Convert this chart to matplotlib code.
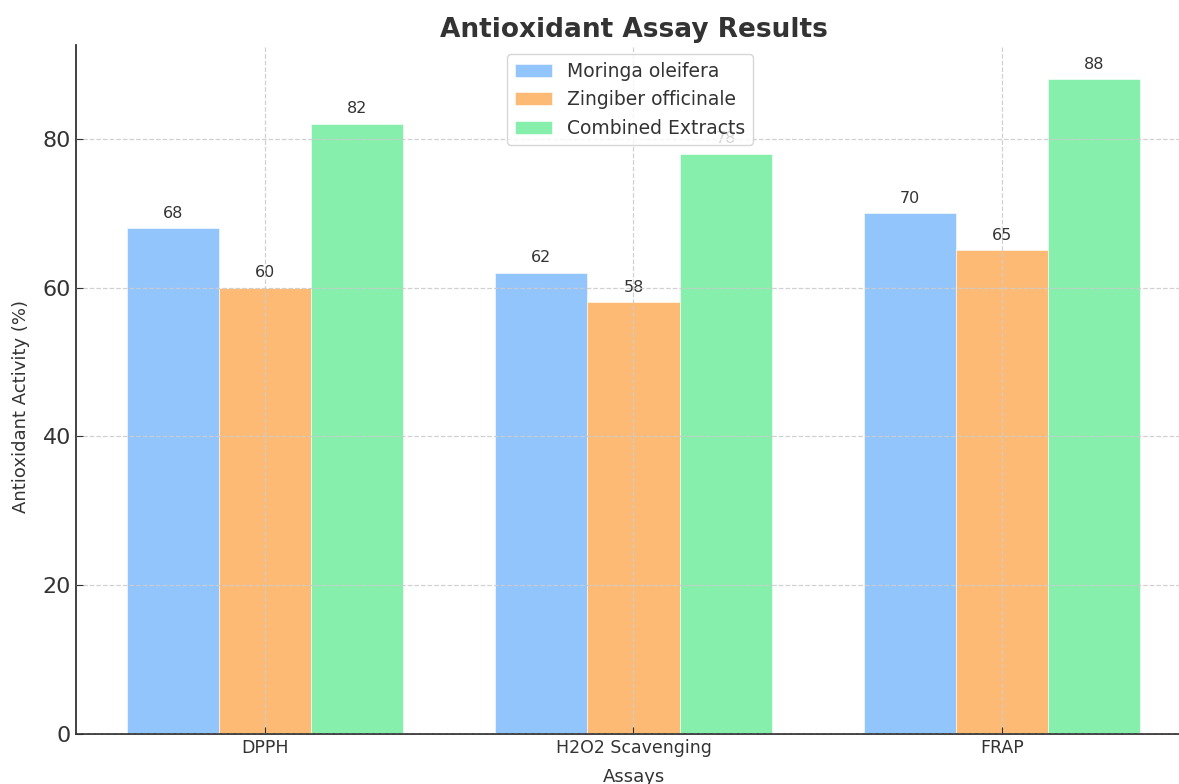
import matplotlib
matplotlib.use("Agg")
import matplotlib.pyplot as plt
import numpy as np

assays = ["DPPH", "H2O2 Scavenging", "FRAP"]
series_names = ["Moringa oleifera", "Zingiber officinale", "Combined Extracts"]
moringa = [68, 62, 70]
zingiber = [60, 58, 65]
combined = [82, 78, 88]
colors = ["#93C5FD", "#FDBA74", "#86EFAC"]

fig = plt.figure(figsize=(11.79, 7.84), dpi=100)
ax = fig.add_axes([76 / 1179, 50 / 784, 1115 / 1179, 689 / 784])

x = np.arange(len(assays))
w = 0.25
text_color = "#333333"
for i, (vals, name, c) in enumerate(zip([moringa, zingiber, combined], series_names, colors)):
    bars = ax.bar(x + (i - 1) * w, vals, w, label=name, color=c, edgecolor="white", linewidth=0.4, zorder=1)
    for b, v in zip(bars, vals):
        ax.text(b.get_x() + b.get_width() / 2, v + 1.0, f"{v}", ha="center", va="bottom",
                fontsize=11.5, color=text_color, zorder=0.5)

ax.set_xticks(x)
ax.set_xticklabels(assays, fontsize=12.5, color=text_color)
ax.tick_params(axis="y", labelsize=16, direction="in", colors=text_color, length=5)
ax.tick_params(axis="x", direction="in", colors=text_color, length=5)
ax.set_yticks([0, 20, 40, 60, 80])
ax.set_ylabel("Antioxidant Activity (%)", fontsize=13, color=text_color)
ax.yaxis.set_label_coords(-0.041, 0.475)
ax.set_xlabel("Assays", fontsize=13, color=text_color, labelpad=8)
ax.set_title("Antioxidant Assay Results", fontsize=19, fontweight="bold", color=text_color, pad=6)

ax.grid(True, linestyle="--", color="#cccccc", linewidth=0.9, alpha=0.9, zorder=2)
ax.set_axisbelow(False)
for s in ["top", "right"]:
    ax.spines[s].set_visible(False)
ax.spines["left"].set_color(text_color)
ax.spines["bottom"].set_color(text_color)
ax.spines["left"].set_linewidth(1.3)
ax.spines["bottom"].set_linewidth(1.3)

ax.set_xlim(-0.5125, 2.5125)
ax.set_ylim(0, 92.6)

leg = ax.legend(loc="upper center", fontsize=13.5, frameon=True, edgecolor="#cccccc",
                bbox_to_anchor=(0.497, 1.0))
for t in leg.get_texts():
    t.set_color(text_color)

fig.savefig("out.png", dpi=100)
